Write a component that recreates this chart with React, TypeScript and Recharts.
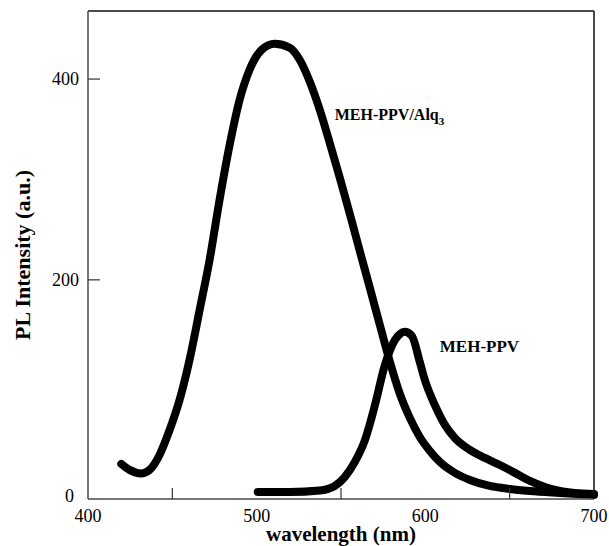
import { LineChart, Line, XAxis, YAxis, ReferenceDot } from "recharts";

// MEH-PPV/Alq3 blend emission (nm, a.u.)
const blendWavelength = [
  419.7, 424.6, 431.5, 436.5, 442.4, 448.4, 454.3, 460.2, 466.2, 472.1, 478.0,
  484.0, 489.9, 495.8, 503.0, 510.7, 519.6, 525.5, 531.5, 537.4, 543.3, 549.3,
  555.2, 561.1, 567.1, 573.0, 579.0, 584.9, 590.8, 596.7, 602.7, 608.6, 617.5,
  626.4, 638.2, 650.1, 662.0, 679.8, 700.0,
];
const blendIntensity = [
  16.6, 10.7, 7.2, 10.7, 25.6, 50.5, 80.4, 120.3, 170.1, 219.9, 279.7, 334.5,
  379.4, 409.3, 429.2, 435.2, 431.2, 419.2, 397.3, 369.4, 336.5, 301.6, 265.8,
  228.9, 192.0, 155.2, 118.3, 86.4, 62.5, 43.5, 29.6, 18.6, 7.7, 0.7, -5.3,
  -8.3, -10.3, -12.3, -14.3,
];

// MEH-PPV emission
const mehWavelength = [
  500.6, 519.6, 537.4, 546.3, 552.2, 558.2, 564.1, 570.1, 576.0, 581.9, 584.9,
  587.8, 592.0, 596.7, 599.7, 605.6, 611.6, 617.5, 626.4, 635.3, 644.2, 653.1,
  662.0, 670.9, 679.8, 688.7, 700.0,
];
const mehIntensity = [
  -11.3, -11.3, -9.8, -5.3, 3.5, 18.6, 40.0, 75.0, 115.0, 140.0, 146.0, 148.2,
  144.2, 118.3, 100.3, 75.4, 55.5, 42.5, 30.6, 22.6, 15.6, 7.7, -0.3, -6.3,
  -10.3, -12.3, -13.3,
];

const xTicks = [400, 450, 500, 550, 600, 650, 700];
const yTicks = [0, 200, 400];

const font = '"Liberation Serif", "Times New Roman", serif';

const toPoints = (xs: number[], ys: number[]) =>
  xs.map((w, i) => ({ w, v: ys[i] }));

const blendData = toPoints(blendWavelength, blendIntensity);
const mehData = toPoints(mehWavelength, mehIntensity);

const XTick = (props: any) => {
  const { x, y, payload } = props;
  const value = Number(payload.value);
  if (value % 100 !== 0) {
    return <line x1={x} x2={x} y1={y} y2={y - 11} stroke="#333" strokeWidth={1.2} />;
  }
  return (
    <text x={x} y={y + 23} textAnchor="middle" fontFamily={font} fontSize={18} fill="#000">
      {value}
    </text>
  );
};

const YTick = (props: any) => {
  const { x, y, payload } = props;
  const value = Number(payload.value);
  if (value === 0) {
    return (
      <text x={x - 14} y={y + 21} textAnchor="end" fontFamily={font} fontSize={18} fill="#000">
        0
      </text>
    );
  }
  return (
    <g>
      <line x1={x} x2={x + 12} y1={y} y2={y} stroke="#333" strokeWidth={1.2} />
      <text x={x - 9} y={y + 6} textAnchor="end" fontFamily={font} fontSize={18} fill="#000">
        {value}
      </text>
    </g>
  );
};

const XTitle = ({ viewBox }: any) => (
  <text
    x={viewBox.x + viewBox.width / 2}
    y={viewBox.y + 42}
    textAnchor="middle"
    fontFamily={font}
    fontSize={21}
    fontWeight="bold"
    fill="#000"
  >
    wavelength (nm)
  </text>
);

const YTitle = ({ viewBox }: any) => {
  const cx = viewBox.x + viewBox.width - 66;
  const cy = viewBox.y + viewBox.height / 2;
  return (
    <text
      transform={`translate(${cx}, ${cy}) rotate(-90)`}
      textAnchor="middle"
      dominantBaseline="central"
      fontFamily={font}
      fontSize={22}
      fontWeight="bold"
      fill="#000"
    >
      PL Intensity (a.u.)
    </text>
  );
};

const SeriesLabel = ({ viewBox, text, sub, size }: any) => (
  <text x={viewBox.x} y={viewBox.y + 5} fontFamily={font} fontSize={size} fontWeight="bold" fill="#000">
    {text}
    {sub && (
      <tspan dy={5} fontSize={11}>
        {sub}
      </tspan>
    )}
  </text>
);

export default function App() {
  return (
    <div style={{ position: "absolute", left: 0, top: 0, width: 609, height: 546, background: "#fff" }}>
      <LineChart
        width={609}
        height={546}
        margin={{ top: 10, right: 14, bottom: 7, left: 8 }}
      >
        <XAxis
          dataKey="w"
          type="number"
          domain={[400, 700]}
          ticks={xTicks}
          interval={0}
          height={40}
          tickSize={0}
          tickMargin={0}
          tickLine={false}
          tick={<XTick />}
          axisLine={{ stroke: "#4a4a4a", strokeWidth: 1.5 }}
          label={<XTitle />}
        />
        <XAxis
          xAxisId="top"
          orientation="top"
          type="number"
          domain={[400, 700]}
          height={1}
          tick={false}
          tickLine={false}
          axisLine={{ stroke: "#111", strokeWidth: 1.5 }}
        />
        <YAxis
          type="number"
          domain={[-18.3, 467.8]}
          ticks={yTicks}
          interval={0}
          width={80}
          tickSize={0}
          tickMargin={0}
          tickLine={false}
          tick={<YTick />}
          axisLine={{ stroke: "#4a4a4a", strokeWidth: 1.5 }}
          label={<YTitle />}
        />
        <YAxis
          yAxisId="right"
          orientation="right"
          type="number"
          domain={[-18.3, 467.8]}
          width={1}
          tick={false}
          tickLine={false}
          axisLine={{ stroke: "#111", strokeWidth: 1.5 }}
        />
        <Line
          data={blendData}
          dataKey="v"
          type="monotone"
          stroke="#000"
          strokeWidth={8}
          strokeLinecap="round"
          dot={false}
          activeDot={false}
          isAnimationActive={false}
        />
        <Line
          data={mehData}
          dataKey="v"
          type="monotone"
          stroke="#000"
          strokeWidth={8}
          strokeLinecap="round"
          dot={false}
          activeDot={false}
          isAnimationActive={false}
        />
        <ReferenceDot
          x={546.3}
          y={364.4}
          r={0}
          fill="none"
          stroke="none"
          label={<SeriesLabel text="MEH-PPV/Alq" sub="3" size={16} />}
        />
        <ReferenceDot
          x={608.6}
          y={133.2}
          r={0}
          fill="none"
          stroke="none"
          label={<SeriesLabel text="MEH-PPV" size={17} />}
        />
      </LineChart>
    </div>
  );
}
